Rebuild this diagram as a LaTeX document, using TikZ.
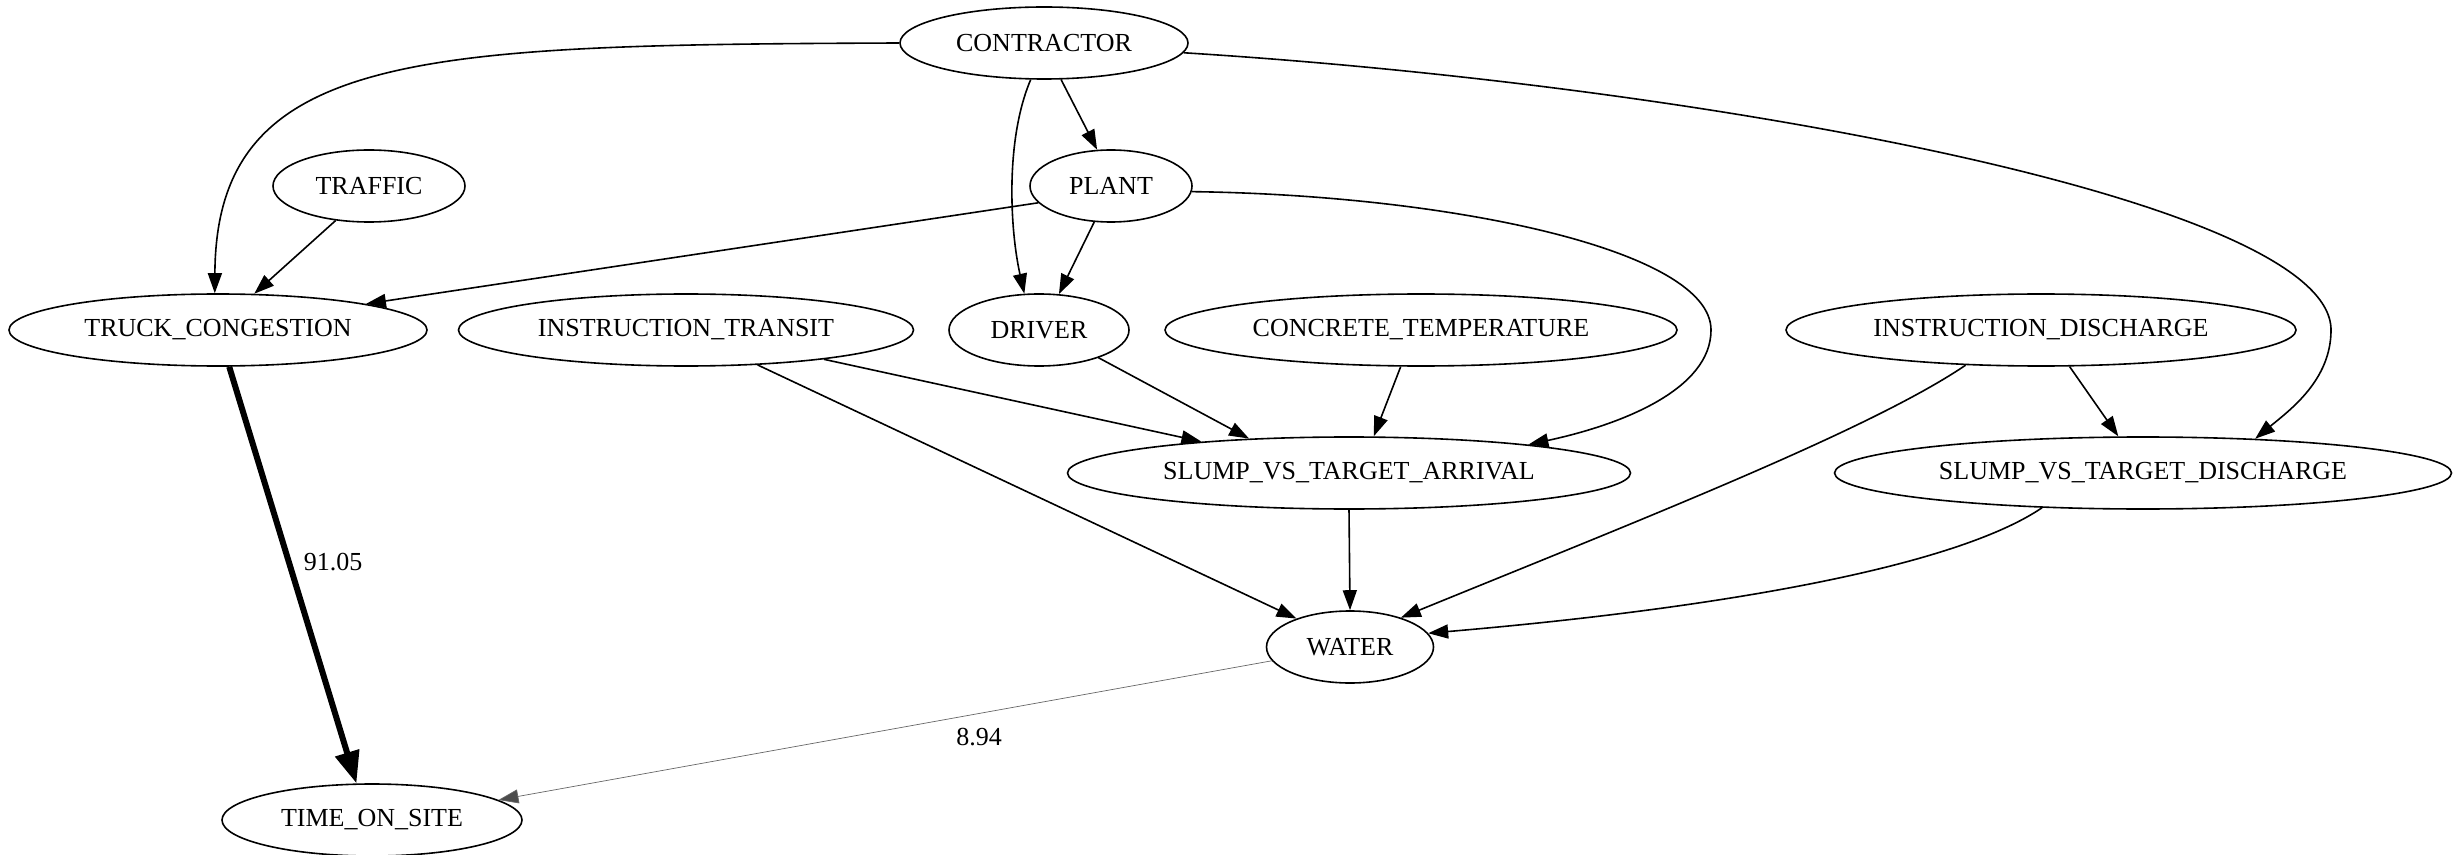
\documentclass[tikz,border=0pt]{standalone}
\usepackage{fontspec}
\setmainfont{Liberation Serif}
\usetikzlibrary{shapes.geometric,arrows.meta}
\begin{document}
\begin{tikzpicture}[x=0.5pt,y=-0.5pt,
  nd/.style={ellipse,draw,line width=0.8pt,inner sep=0pt,minimum height=36pt,font=\fontsize{13}{15}\selectfont},
  ed/.style={line width=0.8pt,-{Triangle[length=10pt,width=7pt]}},
  heavy/.style={line width=3pt,-{Triangle[length=16pt,width=12pt]}},
  light/.style={line width=0.35pt,draw=black!60,-{Triangle[length=10pt,width=7pt,fill=black!70]}},
  lbl/.style={font=\fontsize{13}{15}\selectfont,inner sep=0pt}]
\useasboundingbox (0,0) rectangle (2455,855);
% nodes
\node[nd,minimum width=144pt] (contractor) at (1044,43) {CONTRACTOR};
\node[nd,minimum width=96pt] (traffic) at (369,186) {TRAFFIC};
\node[nd,minimum width=81pt] (plant) at (1111,186) {PLANT};
\node[nd,minimum width=209pt] (truck) at (218,330) {TRUCK\_CONGESTION};
\node[nd,minimum width=227.5pt] (instrtr) at (686,330) {INSTRUCTION\_TRANSIT};
\node[nd,minimum width=90pt] (driver) at (1039,330) {DRIVER};
\node[nd,minimum width=256pt] (conctemp) at (1421,330) {CONCRETE\_TEMPERATURE};
\node[nd,minimum width=255pt] (instrdis) at (2041,330) {INSTRUCTION\_DISCHARGE};
\node[nd,minimum width=281.5pt] (slumparr) at (1349,473) {SLUMP\_VS\_TARGET\_ARRIVAL};
\node[nd,minimum width=308.5pt] (slumpdis) at (2143,473) {SLUMP\_VS\_TARGET\_DISCHARGE};
\node[nd,minimum width=83.5pt] (water) at (1350,647) {WATER};
\node[nd,minimum width=150pt] (time) at (372,820) {TIME\_ON\_SITE};
% edges
\draw[ed] (contractor.west) .. controls (420,45) and (216,50) .. (truck.95);
\draw[ed] (contractor.-65) -- (plant.111);
\draw[ed] (contractor.-110) .. controls (1005,140) and (1010,230) .. (driver.112);
\draw[ed] (contractor.-4) .. controls (1700,85) and (2331,200) .. (2331,330)
   .. controls (2331,380) and (2290,410) .. (slumpdis.17);
\draw[ed] (traffic.-134) -- (truck.45);
\draw[ed] (plant.-167.5) -- (truck.10);
\draw[ed] (plant.-115) -- (driver.61.6);
\draw[ed] (plant.-4) .. controls (1450,195) and (1711,250) .. (1711,330)
   .. controls (1711,390) and (1620,425) .. (slumparr.9);
\draw[ed] (instrtr.-12.3) -- (slumparr.168.9);
\draw[ed] (instrtr.-26) -- (water.152.6);
\draw[ed] (driver.-25.4) -- (slumparr.161.6);
\draw[ed] (conctemp.-119.7) -- (slumparr.56.7);
\draw[ed] (instrdis.-155) .. controls (1870,430) and (1640,520) .. (water.30);
\draw[ed] (instrdis.-52.4) -- (slumpdis.124.4);
\draw[ed] (slumparr.south) -- (water.north);
\draw[ed] (slumpdis.-161) .. controls (1950,570) and (1700,610) .. (water.10);
\draw[heavy] (truck.-73) -- (time.113);
\draw[light] (water.190.4) -- (time.9.3);
% edge labels
\node[lbl] (l9105) at (333,562) {91.05};
\node[lbl] (l894) at (979,737) {8.94};
\end{tikzpicture}
\end{document}
